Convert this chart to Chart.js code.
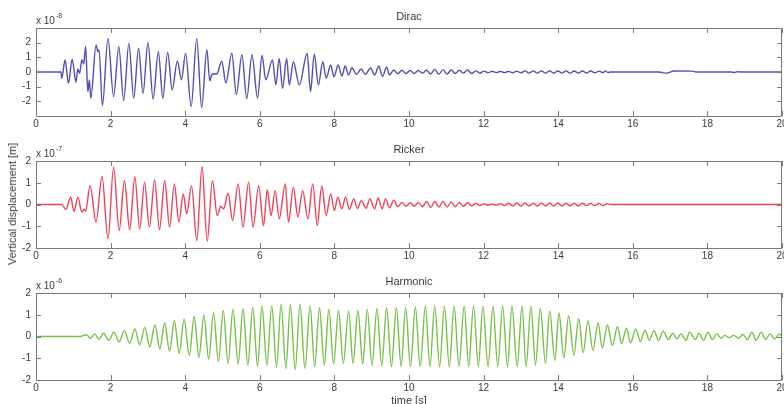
<!DOCTYPE html>
<html>
<head>
<meta charset="utf-8">
<script src="https://cdn.jsdelivr.net/npm/chart.js@4"></script>
<style>
html, body { margin: 0; padding: 0; background: #fff; overflow: hidden; }
#wrap { position: relative; width: 784px; height: 404px; overflow: hidden; }
canvas { position: absolute; left: 0; }
#ylab { position: absolute; left: 12px; top: 204px; transform: translate(-50%, -50%) rotate(-90deg);
        font: 11px "Liberation Sans", Arial, sans-serif; color: #3a3a3a; white-space: nowrap; }
</style>
</head>
<body>
<div id="wrap">
  <canvas id="c1" width="784" height="134" style="top:0px"></canvas>
  <canvas id="c2" width="784" height="132" style="top:134px"></canvas>
  <canvas id="c3" width="784" height="142" style="top:266px"></canvas>
  <div id="ylab">Vertical displacement [m]</div>
</div>
<script>
// panel labels and ticks
const panelTitles = ["Dirac", "Ricker", "Harmonic"];
const panelExponents = ["-8", "-7", "-6"];
const xTickValues = [0, 2, 4, 6, 8, 10, 12, 14, 16, 18, 20];
const yTickValues = [-2, -1, 0, 1, 2];
const yLimits = [3, 2, 2];

// extrema: [time s, displacement in units of the panel exponent]
const dirac = [
  [0,0],[0.67,0],[0.69,-0.43],[0.78,0.82],[0.87,-0.77],[0.97,0.88],[1.07,-0.70],[1.12,0.20],[1.17,-0.09],
  [1.23,0.84],[1.28,0.55],[1.33,1.73],[1.39,-1.34],[1.43,-0.54],[1.47,-1.79],[1.61,1.84],[1.66,1.39],[1.69,1.50],
  [1.78,-2.29],[1.93,2.29],[2.08,-1.68],[2.22,1.72],[2.35,-1.95],[2.49,1.95],[2.62,-1.79],[2.75,1.63],[2.87,-1.45],
  [3.00,1.99],[3.14,-1.84],[3.28,1.38],[3.40,-1.79],[3.53,1.34],[3.65,-1.22],[3.79,0.75],[3.90,-0.54],[4.01,1.27],
  [4.16,-2.36],[4.31,2.29],[4.44,-2.43],[4.58,1.52],[4.66,-0.60],[4.72,-0.15],[4.85,-0.12],[4.98,0.73],[5.09,-0.75],
  [5.25,1.29],[5.37,-1.54],[5.52,1.18],[5.65,-1.82],[5.79,1.18],[5.94,-1.77],[6.06,1.13],[6.16,-0.54],[6.34,0.82],
  [6.43,-0.88],[6.52,0.93],[6.61,-1.11],[6.72,0.93],[6.79,-0.88],[6.90,0.70],[7.06,-0.88],[7.27,1.27],[7.36,-1.34],
  [7.46,1.22],[7.57,-0.88],[7.69,0.70],[7.78,-0.43],[7.90,0.48],[7.99,-0.32],[8.10,0.48],[8.20,-0.27],[8.29,0.41],
  [8.38,-0.20],[8.47,0.29],[8.59,-0.16],[8.72,0.20],[8.83,-0.16],[8.97,0.27],[9.08,-0.21],[9.19,0.41],[9.29,-0.30],
  [9.40,0.32],[9.48,-0.20],[9.59,0.14],[9.70,-0.12],[9.81,0.12],[9.92,-0.10],[10.03,0.10],[10.14,-0.10],[10.25,0.10],
  [10.36,-0.08],[10.47,0.12],[10.58,-0.14],[10.69,0.18],[10.80,-0.16],[10.91,0.16],[11.02,-0.14],[11.13,0.14],
  [11.24,-0.10],[11.35,0.12],[11.46,-0.08],[11.57,0.14],[11.68,-0.10],[11.79,0.08],[11.90,-0.08],[12.01,0.06],
  [12.12,-0.05],[12.23,0.05],[12.34,-0.04],[12.45,0.04],[12.56,-0.04],[12.67,0.04],[12.78,-0.05],[12.89,0.06],
  [13.00,-0.06],[13.11,0.08],[13.22,-0.08],[13.33,0.08],[13.44,-0.08],[13.55,0.08],[13.66,-0.08],[13.77,0.08],
  [13.88,-0.07],[13.99,0.07],[14.10,-0.08],[14.21,0.08],[14.32,-0.07],[14.43,0.07],[14.54,-0.07],[14.65,0.07],
  [14.76,-0.07],[14.87,0.07],[14.98,-0.06],[15.09,0.06],[15.20,-0.05],[15.27,0.08],[15.33,-0.03],[15.40,0],
  [16.70,0],[16.90,-0.08],[17.10,0.07],[17.60,0.06],[17.70,0],[18.65,0],[18.72,-0.03],[18.80,0.02],[18.90,0],[20,0]
];

const ricker = [
  [0,0],[0.69,0],[0.80,-0.23],[0.93,0.34],[1.02,-0.32],[1.12,0.34],[1.23,-0.35],[1.29,-0.22],[1.33,-0.30],
  [1.45,0.87],[1.61,-0.81],[1.77,1.29],[1.93,-1.58],[2.08,1.72],[2.23,-1.20],[2.37,1.10],[2.51,-1.16],[2.65,1.29],
  [2.78,-1.13],[2.91,1.03],[3.04,-1.04],[3.18,1.13],[3.31,-1.16],[3.45,1.10],[3.58,-1.04],[3.71,0.95],[3.83,-0.81],
  [3.95,0.49],[4.04,-0.43],[4.17,0.87],[4.31,-1.66],[4.45,1.75],[4.59,-1.69],[4.73,1.10],[4.86,-0.51],[4.95,-0.08],
  [5.03,-0.20],[5.15,0.52],[5.27,-0.74],[5.42,0.95],[5.55,-1.04],[5.70,1.03],[5.82,-1.04],[5.97,0.87],[6.10,-0.97],
  [6.20,0.68],[6.30,-0.51],[6.41,0.64],[6.52,-0.66],[6.68,0.95],[6.77,-0.81],[6.90,0.80],[7.02,-0.58],[7.15,0.64],
  [7.29,-0.66],[7.42,0.95],[7.54,-0.97],[7.66,0.87],[7.78,-0.51],[7.90,0.49],[8.00,-0.28],[8.09,0.34],[8.20,-0.20],
  [8.30,0.34],[8.40,-0.22],[8.52,0.26],[8.62,-0.18],[8.72,0.18],[8.85,-0.17],[8.95,0.26],[9.08,-0.20],[9.17,0.30],
  [9.28,-0.20],[9.37,0.26],[9.48,-0.15],[9.59,0.20],[9.70,-0.10],[9.81,0.10],[9.92,-0.08],[10.03,0.08],[10.14,-0.08],
  [10.25,0.10],[10.36,-0.10],[10.47,0.14],[10.58,-0.14],[10.69,0.14],[10.80,-0.12],[10.91,0.14],[11.02,-0.12],
  [11.13,0.12],[11.24,-0.10],[11.35,0.10],[11.46,-0.08],[11.57,0.08],[11.68,-0.06],[11.79,0.05],[11.90,-0.04],
  [12.01,0.03],[12.12,-0.03],[12.23,0.03],[12.34,-0.03],[12.45,0.04],[12.56,-0.05],[12.67,0.06],[12.78,-0.06],
  [12.89,0.07],[13.00,-0.07],[13.11,0.07],[13.22,-0.06],[13.33,0.06],[13.44,-0.07],[13.55,0.07],[13.66,-0.06],
  [13.77,0.06],[13.88,-0.07],[13.99,0.07],[14.10,-0.06],[14.21,0.06],[14.32,-0.06],[14.43,0.06],[14.54,-0.06],
  [14.65,0.06],[14.76,-0.05],[14.87,0.05],[14.98,-0.05],[15.09,0.05],[15.20,-0.05],[15.31,0.04],[15.42,0],[20,0]
];

const harmonic = [
  [0,0],[1.18,0],[1.35,0.08],[1.46,-0.08],[1.57,0.12],[1.69,-0.13],[1.81,0.15],[1.95,-0.17],[2.09,0.20],[2.23,-0.24],
  [2.37,0.27],[2.51,-0.31],[2.65,0.35],[2.78,-0.39],[2.92,0.42],[3.05,-0.48],[3.19,0.53],[3.32,-0.58],[3.45,0.62],
  [3.58,-0.68],[3.71,0.73],[3.84,-0.77],[3.97,0.80],[4.11,-0.86],[4.24,0.92],[4.37,-0.95],[4.50,0.98],[4.63,-1.05],
  [4.76,1.11],[4.89,-1.16],[5.02,1.21],[5.15,-1.24],[5.28,1.26],[5.42,-1.28],[5.55,1.29],[5.68,-1.32],[5.81,1.33],
  [5.94,-1.37],[6.06,1.41],[6.19,-1.32],[6.32,1.40],[6.45,-1.39],[6.57,1.49],[6.70,-1.47],[6.82,1.47],[6.95,-1.52],
  [7.08,1.49],[7.21,-1.47],[7.35,1.41],[7.47,-1.39],[7.60,1.33],[7.73,-1.32],[7.85,1.26],[7.98,-1.27],[8.11,1.21],
  [8.24,-1.24],[8.38,1.18],[8.50,-1.24],[8.63,1.21],[8.76,-1.27],[8.88,1.26],[9.01,-1.32],[9.14,1.29],[9.27,-1.35],
  [9.40,1.33],[9.53,-1.39],[9.66,1.33],[9.79,-1.39],[9.91,1.33],[10.04,-1.39],[10.17,1.37],[10.30,-1.39],[10.44,1.41],
  [10.56,-1.39],[10.69,1.41],[10.82,-1.39],[10.95,1.41],[11.08,-1.39],[11.21,1.41],[11.34,-1.39],[11.48,1.41],
  [11.60,-1.39],[11.73,1.41],[11.86,-1.39],[11.98,1.41],[12.12,-1.39],[12.25,1.41],[12.38,-1.39],[12.51,1.41],
  [12.64,-1.39],[12.76,1.41],[12.90,-1.39],[13.03,1.41],[13.14,-1.39],[13.27,1.41],[13.39,-1.32],[13.52,1.29],
  [13.66,-1.24],[13.77,1.18],[13.91,-1.09],[14.02,1.08],[14.15,-0.98],[14.28,0.95],[14.42,-0.86],[14.55,0.83],
  [14.67,-0.74],[14.80,0.73],[14.93,-0.64],[15.07,0.62],[15.18,-0.53],[15.32,0.53],[15.45,-0.41],[15.59,0.45],
  [15.70,-0.33],[15.83,0.38],[15.94,-0.29],[16.08,0.35],[16.20,-0.23],[16.33,0.30],[16.44,-0.18],[16.57,0.27],
  [16.69,-0.18],[16.82,0.24],[16.95,-0.14],[17.07,0.15],[17.18,-0.11],[17.29,0.12],[17.43,-0.18],[17.52,0.20],
  [17.68,-0.14],[17.77,0.15],[17.90,-0.18],[18.01,0.20],[18.14,-0.14],[18.25,0.12],[18.37,-0.08],[18.46,0.05],
  [18.59,-0.05],[18.70,0.05],[18.84,-0.08],[18.95,0.09],[19.08,-0.14],[19.19,0.20],[19.31,-0.18],[19.44,0.20],
  [19.56,-0.14],[19.68,0.12],[19.80,-0.11],[19.93,0.12],[20,-0.03]
];

const lineColors = ["#4f4fb6", "#ef4258", "#78c046"];
const tickFont = { family: '"Liberation Sans", Arial, sans-serif', size: 10 };

// matlab style box: frame, inward ticks, title and the "x 10^n" note
const frame = {
  id: "frame",
  afterDatasetsDraw(chart, args, opts) {
    const { ctx, chartArea: a, scales: { x, y } } = chart;
    ctx.save();
    ctx.strokeStyle = "#7a7a7a";
    ctx.lineWidth = 1;
    ctx.beginPath();
    x.ticks.forEach(t => {
      const px = Math.round(x.getPixelForValue(t.value)) + 0.5;
      ctx.moveTo(px, a.bottom); ctx.lineTo(px, a.bottom - 5);
      ctx.moveTo(px, a.top); ctx.lineTo(px, a.top + 5);
    });
    y.ticks.forEach(t => {
      const py = Math.round(y.getPixelForValue(t.value)) + 0.5;
      ctx.moveTo(a.left, py); ctx.lineTo(a.left + 5, py);
      ctx.moveTo(a.right, py); ctx.lineTo(a.right - 5, py);
    });
    ctx.rect(Math.round(a.left) + 0.5, Math.round(a.top) + 0.5, Math.round(a.width) - 1, Math.round(a.height));
    ctx.stroke();

    ctx.fillStyle = "#3a3a3a";
    ctx.font = '11px "Liberation Sans", Arial, sans-serif';
    ctx.textAlign = "center";
    ctx.textBaseline = "middle";
    ctx.fillText(opts.title, (a.left + a.right) / 2, a.top - 11);

    ctx.textAlign = "left";
    ctx.textBaseline = "alphabetic";
    ctx.font = '10px "Liberation Sans", Arial, sans-serif';
    ctx.fillText("x 10", a.left, a.top - 4);
    const w = ctx.measureText("x 10").width;
    ctx.font = '7px "Liberation Sans", Arial, sans-serif';
    ctx.fillText(opts.exp, a.left + w + 1, a.top - 10);
    ctx.restore();
  }
};

function makePanel(id, series, i, top, xh, xTitle) {
  return new Chart(document.getElementById(id), {
    type: "line",
    data: {
      datasets: [{
        data: series.map(p => ({ x: p[0], y: p[1] })),
        borderColor: lineColors[i],
        borderWidth: 1.4,
        pointRadius: 0,
        cubicInterpolationMode: "monotone",
        fill: false
      }]
    },
    options: {
      responsive: false,
      animation: false,
      events: [],
      layout: { padding: { top: top, right: 2, bottom: 0, left: 0 } },
      plugins: {
        legend: { display: false },
        tooltip: { enabled: false },
        frame: { title: panelTitles[i], exp: panelExponents[i] }
      },
      scales: {
        x: {
          type: "linear",
          min: 0,
          max: 20,
          afterBuildTicks: s => { s.ticks = xTickValues.map(v => ({ value: v })); },
          grid: { display: false, drawTicks: false },
          border: { display: false },
          ticks: { padding: 2, color: "#3a3a3a", font: tickFont, maxRotation: 0, autoSkip: false },
          title: { display: !!xTitle, text: xTitle || "", padding: 0, color: "#3a3a3a",
                   font: { family: tickFont.family, size: 11 } },
          afterFit: s => { s.height = xh; s.paddingLeft = 0; s.paddingRight = 0; }
        },
        y: {
          min: -yLimits[i],
          max: yLimits[i],
          afterBuildTicks: s => { s.ticks = yTickValues.map(v => ({ value: v })); },
          grid: { display: false, drawTicks: false },
          border: { display: false },
          ticks: { padding: 5, color: "#3a3a3a", font: tickFont },
          afterFit: s => { s.width = 36; s.paddingTop = 0; s.paddingBottom = 0; }
        }
      }
    },
    plugins: [frame]
  });
}

makePanel("c1", dirac, 0, 28, 18);
makePanel("c2", ricker, 1, 27, 18);
makePanel("c3", harmonic, 2, 27, 28, "time [s]");
</script>
</body>
</html>
